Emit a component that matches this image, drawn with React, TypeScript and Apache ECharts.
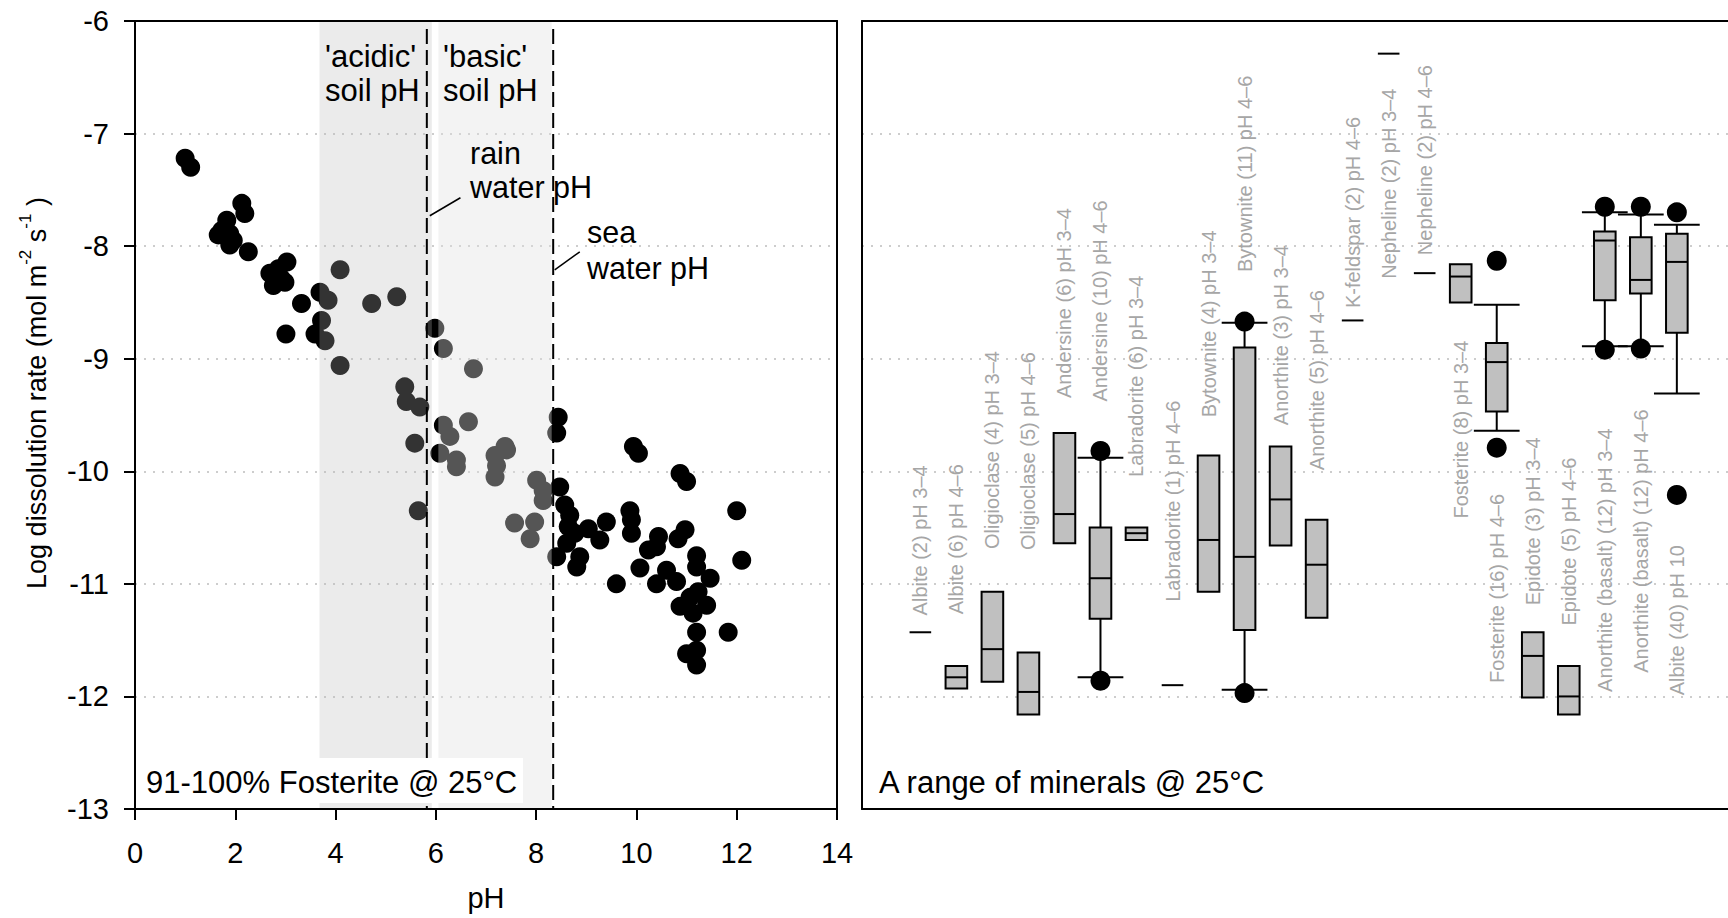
import React, { useEffect, useRef } from "react";
import * as echarts from "echarts";

const FONT = '"Liberation Sans", Arial, Helvetica, sans-serif';

// ---- Left panel: 91-100% fosterite dissolution rate vs pH ----
const fosteritePoints: [number, number][] = [
  [1.0, -7.22], [1.11, -7.3], [2.13, -7.62], [2.19, -7.71], [1.83, -7.77], [1.73, -7.86],
  [1.66, -7.9], [1.89, -7.89], [1.96, -7.95], [1.89, -7.99], [2.26, -8.05],
  [3.03, -8.14], [2.86, -8.2], [2.69, -8.24], [2.92, -8.29], [2.76, -8.35], [2.99, -8.32],
  [3.32, -8.51], [3.01, -8.78], [3.59, -8.78], [3.69, -8.41], [3.85, -8.48], [3.72, -8.66],
  [3.79, -8.84], [4.09, -8.21], [4.72, -8.51], [5.22, -8.45], [4.09, -9.06], [5.38, -9.25],
  [5.41, -9.38], [5.68, -9.43], [5.58, -9.75], [5.65, -10.35], [5.98, -8.73], [6.15, -8.91],
  [6.75, -9.09], [6.15, -9.59], [6.28, -9.69], [6.65, -9.56], [6.08, -9.84], [6.41, -9.96],
  [6.41, -9.9], [7.38, -9.78], [7.41, -9.81], [7.18, -9.86], [7.18, -10.05], [7.21, -9.95],
  [8.01, -10.08], [8.14, -10.17], [8.14, -10.26], [7.57, -10.46], [7.97, -10.45], [7.88, -10.6],
  [8.44, -9.52], [8.41, -9.66], [8.47, -10.14], [8.57, -10.3], [8.67, -10.39], [8.64, -10.49],
  [8.77, -10.55], [9.04, -10.51], [8.61, -10.64], [8.41, -10.76], [8.81, -10.85], [8.87, -10.76],
  [9.4, -10.45], [9.27, -10.61], [9.6, -11.0], [9.87, -10.35], [9.9, -10.43], [9.9, -10.55],
  [9.94, -9.78], [10.04, -9.84], [10.07, -10.86], [10.24, -10.7], [10.44, -10.58], [10.4, -10.67],
  [10.4, -11.0], [10.6, -10.88], [10.83, -10.6], [10.97, -10.52], [10.8, -10.98], [10.87, -11.2],
  [10.87, -10.02], [11.0, -10.09], [11.2, -10.75], [11.2, -10.85], [11.47, -10.95], [11.23, -11.07],
  [11.07, -11.12], [11.4, -11.19], [11.13, -11.26], [11.2, -11.43], [11.0, -11.62], [11.2, -11.59],
  [11.2, -11.72], [11.83, -11.43], [12.0, -10.35], [12.1, -10.79],
];

const soilRanges: [number, number][] = [
  [3.68, 5.92], // 'acidic' soil pH
  [6.05, 8.31], // 'basic' soil pH
];
const waterPH = [5.82, 8.34]; // rain water pH, sea water pH
const leaderLines: [number, number, number, number][] = [
  [5.88, -7.73, 6.49, -7.57],
  [8.37, -8.21, 8.87, -8.05],
];

// ---- Right panel: a range of minerals ----
const minerals = [
  "Albite (2) pH 3–4", "Albite (6) pH 4–6", "Oligioclase (4) pH 3–4", "Oligioclase (5) pH 4–6",
  "Andersine (6) pH 3–4", "Andersine (10) pH 4–6", "Labradorite (6) pH 3–4", "Labradorite (1) pH 4–6",
  "Bytownite (4) pH 3–4", "Bytownite (11) pH 4–6", "Anorthite (3) pH 3–4", "Anorthite (5) pH 4–6",
  "K-feldspar (2) pH 4–6", "Nepheline (2) pH 3–4", "Nepheline (2) pH 4–6", "Fosterite (8) pH 3–4",
  "Fosterite (16) pH 4–6", "Epidote (3) pH 3–4", "Epidote (5) pH 4–6",
  "Anorthite (basalt) (12) pH 3–4", "Anorthite (basalt) (12) pH 4–6", "Albite (40) pH 10",
];
const boxQ3 = [-11.43, -11.73, -11.07, -11.61, -9.66, -10.5, -10.5, -11.9, -9.86, -8.9, -9.78, -10.43,
  -8.66, -6.29, -8.24, -8.16, -8.86, -11.43, -11.73, -7.87, -7.92, -7.89];
const boxQ1 = [-11.43, -11.93, -11.87, -12.16, -10.64, -11.31, -10.61, -11.9, -11.07, -11.41, -10.66, -11.3,
  -8.66, -6.29, -8.24, -8.5, -9.47, -12.01, -12.16, -8.48, -8.42, -8.77];
const boxMedian = [-11.43, -11.83, -11.58, -11.96, -10.38, -10.95, -10.55, -11.9, -10.61, -10.76, -10.25, -10.83,
  -8.66, -6.29, -8.24, -8.27, -9.03, -11.64, -12.0, -7.95, -8.3, -8.14];
const whiskerHigh: (number | null)[] = [null, null, null, null, null, -9.88, null, null, null, -8.68, null, null,
  null, null, null, null, -8.52, null, null, -7.7, -7.72, -7.81];
const whiskerLow: (number | null)[] = [null, null, null, null, null, -11.83, null, null, null, -11.94, null, null,
  null, null, null, null, -9.64, null, null, -8.89, -8.89, -9.31];
const outliers: [number, number][] = [
  [5, -9.82], [5, -11.86], [9, -8.67], [9, -11.97], [16, -8.13], [16, -9.79],
  [19, -7.65], [19, -8.92], [20, -7.65], [20, -8.91], [21, -7.7], [21, -10.21],
];
// where each rotated mineral label starts (log-rate units)
const labelAnchor = [-11.28, -11.27, -10.69, -10.7, -9.35, -9.38, -10.05, -11.16, -9.52, -8.23, -9.59, -9.99,
  -8.55, -8.29, -8.08, -10.42, -11.88, -11.19, -11.37, -11.96, -11.79, -11.99];

const LEFT = { left: 135, top: 21, width: 702, height: 788 };
const RIGHT = { left: 862, top: 21, width: 870, height: 788 };

export default function App() {
  const ref = useRef<HTMLDivElement>(null);

  useEffect(() => {
    if (!ref.current) return;
    const chart = echarts.init(ref.current, undefined, { renderer: "svg" });

    const gridLine = () => ({
      show: true, showMinLine: false, showMaxLine: false,
      lineStyle: { type: [2, 7] as any, color: "#bdbdbd", width: 1.5 },
    });
    const blackLine = () => ({ color: "#000", width: 2, type: "solid" });
    const frame = (grid: number, pos: string, min: number, max: number) => ({
      gridIndex: grid, type: "value", min, max, position: pos,
      axisLine: { show: true, onZero: false, lineStyle: blackLine() },
      axisTick: { show: false }, axisLabel: { show: false }, splitLine: { show: false },
    });
    const annot = (x: number, y: number, text: string, fontSize: number, lineHeight?: number) => ({
      type: "text", z: 101, x, y,
      style: {
        text, fontSize, lineHeight: lineHeight || fontSize, fontFamily: FONT, fill: "#000",
        align: "left", verticalAlign: "middle",
      },
    });

    const option: any = {
      animation: false,
      backgroundColor: "#fff",
      textStyle: { fontFamily: FONT },
      grid: [
        { ...LEFT, show: false, containLabel: false },
        { ...RIGHT, show: false, containLabel: false },
      ],
      xAxis: [
        {
          gridIndex: 0, type: "value", min: 0, max: 14, interval: 2, position: "bottom",
          axisLine: { show: true, onZero: false, lineStyle: blackLine() },
          axisTick: { show: true, inside: false, length: 11, lineStyle: blackLine() },
          axisLabel: { fontSize: 29, color: "#000", margin: 29, fontFamily: FONT },
          splitLine: { show: false },
          name: "pH", nameLocation: "middle", nameGap: 74,
          nameTextStyle: { fontSize: 29, color: "#000", fontFamily: FONT },
        },
        frame(0, "top", 0, 14),
        frame(1, "bottom", -1.62, 22.42),
        frame(1, "top", -1.62, 22.42),
      ],
      yAxis: [
        {
          gridIndex: 0, type: "value", min: -13, max: -6, interval: 1, position: "left",
          axisLine: { show: true, onZero: false, lineStyle: blackLine() },
          axisTick: { show: true, inside: false, length: 11, lineStyle: blackLine() },
          axisLabel: { fontSize: 29, color: "#000", margin: 26, fontFamily: FONT },
          splitLine: gridLine(),
          name: "{a|Log dissolution rate (mol m}{s|-2}{a| s}{s|-1}{a| )}",
          nameLocation: "middle", nameRotate: 90, nameGap: 78,
          nameTextStyle: {
            color: "#000", fontFamily: FONT, fontSize: 27, padding: [0, 0, 0, 44],
            rich: {
              a: { fontSize: 27, lineHeight: 40, fontFamily: FONT, color: "#000" },
              s: { fontSize: 17, lineHeight: 17, verticalAlign: "top", fontFamily: FONT, color: "#000" },
            },
          },
        },
        frame(0, "right", -13, -6),
        {
          gridIndex: 1, type: "value", min: -13, max: -6, interval: 1, position: "left",
          axisLine: { show: true, onZero: false, lineStyle: blackLine() },
          axisTick: { show: false }, axisLabel: { show: false },
          splitLine: gridLine(),
        },
      ],
      series: [
        {
          type: "scatter", xAxisIndex: 0, yAxisIndex: 0, data: fosteritePoints,
          symbol: "circle", symbolSize: 19, itemStyle: { color: "#000", opacity: 1 }, z: 2,
          silent: true,
        },
        {
          type: "custom", xAxisIndex: 0, yAxisIndex: 0, z: 3, silent: true,
          data: soilRanges,
          renderItem: (params: any, api: any) => {
            const p0 = api.coord([api.value(0), -6]);
            const p1 = api.coord([api.value(1), -13]);
            const fill = params.dataIndex === 0 ? "rgba(183,183,183,0.28)" : "rgba(224,224,224,0.38)";
            return {
              type: "rect",
              shape: { x: p0[0], y: p0[1] + 1, width: p1[0] - p0[0], height: p1[1] - p0[1] - 2 },
              style: { fill },
            };
          },
        },
        {
          type: "custom", xAxisIndex: 0, yAxisIndex: 0, z: 4, silent: true,
          data: waterPH.map((v) => [v]),
          renderItem: (params: any, api: any) => {
            const p0 = api.coord([api.value(0), -6]);
            const p1 = api.coord([api.value(0), -13]);
            return {
              type: "line",
              shape: { x1: p0[0], y1: p0[1] + 8, x2: p1[0], y2: p1[1] },
              style: { stroke: "#000", lineWidth: 2, lineDash: [15, 6] },
            };
          },
        },
        {
          type: "custom", xAxisIndex: 0, yAxisIndex: 0, z: 4, silent: true,
          data: leaderLines,
          renderItem: (params: any, api: any) => {
            const a = api.coord([api.value(0), api.value(1)]);
            const b = api.coord([api.value(2), api.value(3)]);
            return {
              type: "line",
              shape: { x1: a[0], y1: a[1], x2: b[0], y2: b[1] },
              style: { stroke: "#000", lineWidth: 1.5 },
            };
          },
        },
        {
          type: "custom", xAxisIndex: 2, yAxisIndex: 2, z: 3, silent: true,
          data: minerals.map((_, i) => [i, boxMedian[i]]),
          renderItem: (params: any, api: any) => {
            const i = params.dataIndex;
            const bw = api.size([1, 0])[0];
            const half = bw * 0.3;
            const capHalf = bw * 0.635;
            const top = api.coord([i, boxQ3[i]]);
            const cx = top[0];
            const yTop = top[1];
            const yBot = api.coord([i, boxQ1[i]])[1];
            const yMed = api.coord([i, boxMedian[i]])[1];
            const st = { stroke: "#000", lineWidth: 2 };
            const children: any[] = [];
            const wh = whiskerHigh[i];
            const wl = whiskerLow[i];
            if (wh != null) {
              const y = api.coord([i, wh])[1];
              children.push({ type: "line", shape: { x1: cx, y1: yTop, x2: cx, y2: y }, style: st });
              children.push({ type: "line", shape: { x1: cx - capHalf, y1: y, x2: cx + capHalf, y2: y }, style: st });
            }
            if (wl != null) {
              const y = api.coord([i, wl])[1];
              children.push({ type: "line", shape: { x1: cx, y1: yBot, x2: cx, y2: y }, style: st });
              children.push({ type: "line", shape: { x1: cx - capHalf, y1: y, x2: cx + capHalf, y2: y }, style: st });
            }
            if (yBot - yTop < 1) {
              children.push({ type: "line", shape: { x1: cx - half, y1: yTop, x2: cx + half, y2: yTop }, style: st });
            } else {
              children.push({
                type: "rect",
                shape: { x: cx - half, y: yTop, width: half * 2, height: yBot - yTop },
                style: { fill: "#c0c0c0", stroke: "#000", lineWidth: 2 },
              });
              children.push({ type: "line", shape: { x1: cx - half, y1: yMed, x2: cx + half, y2: yMed }, style: st });
            }
            const lp = api.coord([i, labelAnchor[i]]);
            children.push({
              type: "text", x: lp[0], y: lp[1], rotation: Math.PI / 2,
              style: {
                text: minerals[i], fill: "#a6a6a6", fontSize: 20, fontFamily: FONT,
                align: "left", verticalAlign: "middle",
              },
            });
            return { type: "group", children };
          },
        },
        {
          type: "scatter", xAxisIndex: 2, yAxisIndex: 2, data: outliers,
          symbol: "circle", symbolSize: 20, itemStyle: { color: "#000", opacity: 1 }, z: 5, silent: true,
        },
      ],
      graphic: [
        { type: "rect", z: 100, shape: { x: 137, y: 758, width: 386, height: 45 }, style: { fill: "#fff" } },
        annot(146, 782, "91-100% Fosterite @ 25°C", 31),
        annot(879, 782, "A range of minerals @ 25°C", 31),
        annot(325, 73, "'acidic'\nsoil pH", 31, 34),
        annot(443, 73, "'basic'\nsoil pH", 31, 34),
        annot(470, 170, "rain\nwater pH", 30.5, 34),
        annot(587, 250, "sea\nwater pH", 30.5, 36),
      ],
    };

    chart.setOption(option);
    return () => chart.dispose();
  }, []);

  return (
    <div
      ref={ref}
      style={{ position: "absolute", left: 0, top: 0, width: 1728, height: 918, background: "#fff" }}
    />
  );
}
